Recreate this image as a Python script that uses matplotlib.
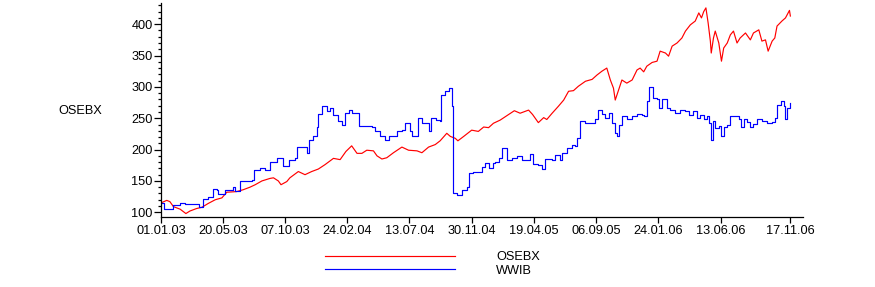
import matplotlib
matplotlib.use("Agg")
import matplotlib.pyplot as plt
import matplotlib.dates as mdates
from matplotlib.ticker import MultipleLocator
import pandas as pd

plt.rcParams['font.family'] = ['Liberation Sans', 'DejaVu Sans']
plt.rcParams['font.size'] = 9.2

# OSEBX index (red)
osebx_dates = [
    '2003-01-01', '2003-01-14', '2003-01-21', '2003-01-29', '2003-02-13', '2003-02-26',
    '2003-03-07', '2003-03-22', '2003-04-03', '2003-04-17', '2003-05-03', '2003-05-18',
    '2003-05-29', '2003-06-20', '2003-07-05', '2003-07-20', '2003-08-01', '2003-08-16',
    '2003-09-03', '2003-09-11', '2003-09-22', '2003-09-28', '2003-10-11', '2003-10-18',
    '2003-11-06', '2003-11-21', '2003-12-06', '2003-12-21', '2004-01-01', '2004-01-05',
    '2004-01-24', '2004-02-08', '2004-02-21', '2004-03-05', '2004-03-17', '2004-03-28',
    '2004-04-08', '2004-04-23', '2004-05-01', '2004-05-12', '2004-05-23', '2004-06-07',
    '2004-06-26', '2004-07-11', '2004-07-30', '2004-08-10', '2004-08-25', '2004-09-09',
    '2004-09-20', '2004-10-05', '2004-10-13', '2004-10-24', '2004-10-30', '2004-11-12',
    '2004-11-30', '2004-12-15', '2004-12-27', '2005-01-07', '2005-01-18', '2005-02-02',
    '2005-02-17', '2005-03-06', '2005-03-19', '2005-04-07', '2005-04-16', '2005-04-22',
    '2005-04-29', '2005-05-11', '2005-05-18', '2005-05-30', '2005-06-13', '2005-06-25',
    '2005-07-06', '2005-07-17', '2005-07-28', '2005-08-13', '2005-08-28', '2005-09-08',
    '2005-09-19', '2005-09-30', '2005-10-08', '2005-10-15', '2005-10-19', '2005-10-26',
    '2005-11-03', '2005-11-14', '2005-11-26', '2005-12-07', '2005-12-14', '2005-12-22',
    '2005-12-29', '2006-01-10', '2006-01-21', '2006-01-28', '2006-02-09', '2006-02-16',
    '2006-02-24', '2006-03-07', '2006-03-18', '2006-03-26', '2006-04-06', '2006-04-17',
    '2006-04-25', '2006-05-01', '2006-05-06', '2006-05-11', '2006-05-16', '2006-05-21',
    '2006-05-23', '2006-05-28', '2006-06-01', '2006-06-09', '2006-06-15', '2006-06-20',
    '2006-06-28', '2006-07-05', '2006-07-12', '2006-07-20', '2006-07-27', '2006-08-08',
    '2006-08-19', '2006-08-26', '2006-09-07', '2006-09-14', '2006-09-22', '2006-09-28',
    '2006-10-07', '2006-10-13', '2006-10-18', '2006-10-29', '2006-11-06', '2006-11-12',
    '2006-11-15', '2006-11-17',
]
osebx_values = [
    115, 119, 117, 109, 105, 98,
    102, 106, 108, 114, 120, 123,
    132, 133, 136, 140, 144, 150,
    154, 155, 150, 144, 149, 155,
    165, 160, 165, 169, 174, 176,
    186, 184, 197, 206, 194, 194,
    199, 198, 190, 185, 187, 195,
    204, 199, 198, 195, 204, 208,
    214, 226, 221, 218, 214, 221,
    231, 229, 236, 235, 242, 247,
    254, 262, 258, 263, 256, 250,
    243, 251, 248, 258, 269, 279,
    293, 294, 301, 309, 312, 319,
    325, 330, 311, 298, 279, 294,
    311, 306, 311, 327, 330, 324,
    333, 339, 341, 357, 354, 349,
    365, 370, 378, 389, 399, 405,
    418, 410, 420, 426, 402, 373,
    354, 378, 389, 370, 341, 362,
    370, 383, 389, 370, 378, 386,
    375, 386, 391, 373, 375, 357,
    373, 378, 397, 405, 410, 418,
    422, 413,
]

# WWIB (blue)
wwib_dates = [
    '2003-01-01', '2003-01-08', '2003-01-26', '2003-01-27', '2003-02-13', '2003-02-24',
    '2003-03-19', '2003-03-28', '2003-04-06', '2003-04-17', '2003-04-27', '2003-05-06',
    '2003-05-10', '2003-05-25', '2003-06-11', '2003-06-17', '2003-06-28', '2003-07-24',
    '2003-07-30', '2003-08-12', '2003-08-23', '2003-09-03', '2003-09-18', '2003-10-03',
    '2003-10-15', '2003-10-30', '2003-11-02', '2003-11-17', '2003-11-25', '2003-11-29',
    '2003-12-10', '2003-12-17', '2003-12-21', '2003-12-30', '2004-01-09', '2004-01-16',
    '2004-01-24', '2004-02-04', '2004-02-12', '2004-02-19', '2004-02-27', '2004-03-06',
    '2004-03-17', '2004-03-22', '2004-04-19', '2004-04-27', '2004-05-08', '2004-05-19',
    '2004-05-28', '2004-06-07', '2004-06-15', '2004-06-26', '2004-07-03', '2004-07-15',
    '2004-07-18', '2004-07-30', '2004-08-01', '2004-08-10', '2004-08-17', '2004-08-25',
    '2004-08-31', '2004-09-11', '2004-09-20', '2004-09-22', '2004-10-01', '2004-10-09',
    '2004-10-15', '2004-10-16', '2004-10-19', '2004-10-28', '2004-11-02', '2004-11-08',
    '2004-11-19', '2004-11-24', '2004-12-04', '2004-12-15', '2004-12-23', '2004-12-30',
    '2005-01-07', '2005-01-16', '2005-01-22', '2005-01-31', '2005-02-07', '2005-02-17',
    '2005-02-28', '2005-03-12', '2005-03-23', '2005-04-11', '2005-04-18', '2005-04-29',
    '2005-05-07', '2005-05-14', '2005-05-30', '2005-06-06', '2005-06-17', '2005-06-21',
    '2005-07-02', '2005-07-14', '2005-07-21', '2005-07-25', '2005-08-01', '2005-08-13',
    '2005-08-28', '2005-09-04', '2005-09-11', '2005-09-19', '2005-09-27', '2005-10-04',
    '2005-10-12', '2005-10-19', '2005-10-23', '2005-10-28', '2005-11-03', '2005-11-14',
    '2005-11-26', '2005-12-07', '2005-12-18', '2005-12-22', '2005-12-29', '2006-01-04',
    '2006-01-08', '2006-01-13', '2006-01-21', '2006-01-25', '2006-02-01', '2006-02-07',
    '2006-02-12', '2006-02-20', '2006-03-03', '2006-03-14', '2006-03-26', '2006-04-02',
    '2006-04-13', '2006-04-21', '2006-04-28', '2006-05-06', '2006-05-13', '2006-05-19',
    '2006-05-23', '2006-05-26', '2006-06-01', '2006-06-09', '2006-06-15', '2006-06-20',
    '2006-06-28', '2006-07-05', '2006-07-16', '2006-07-24', '2006-07-30', '2006-08-04',
    '2006-08-12', '2006-08-19', '2006-08-26', '2006-09-03', '2006-09-14', '2006-09-26',
    '2006-10-07', '2006-10-13', '2006-10-18', '2006-10-26', '2006-11-02', '2006-11-06',
    '2006-11-10', '2006-11-17',
]
wwib_values = [
    115, 106, 106, 111, 115, 114,
    113, 108, 122, 124, 137, 136,
    129, 136, 141, 134, 150, 152,
    168, 170, 167, 181, 186, 174,
    183, 186, 204, 204, 194, 215,
    221, 236, 256, 269, 261, 266,
    255, 245, 239, 258, 263, 258,
    258, 237, 236, 229, 221, 215,
    221, 221, 229, 231, 242, 229,
    221, 221, 250, 242, 242, 230,
    250, 247, 245, 287, 293, 298,
    299, 269, 130, 128, 128, 136,
    141, 162, 165, 164, 173, 178,
    170, 179, 181, 186, 202, 184,
    186, 189, 184, 193, 177, 175,
    169, 185, 184, 191, 184, 194,
    202, 208, 205, 218, 245, 243,
    243, 249, 263, 257, 250, 259,
    242, 226, 222, 240, 253, 249,
    253, 257, 255, 253, 277, 300,
    300, 282, 280, 266, 281, 281,
    266, 263, 259, 263, 261, 255,
    261, 250, 255, 249, 253, 242,
    216, 245, 234, 237, 222, 236,
    239, 254, 254, 249, 236, 248,
    244, 236, 241, 249, 245, 242,
    244, 250, 271, 277, 269, 249,
    266, 274,
]

tick_dates = ['2003-01-01', '2003-05-20', '2003-10-07', '2004-02-24', '2004-07-13',
              '2004-11-30', '2005-04-19', '2005-09-06', '2006-01-24', '2006-06-13',
              '2006-11-17']

fig = plt.figure(figsize=(8.75, 2.87), dpi=100)
ax = fig.add_axes([0.184, 0.245, 0.734, 0.745])

ax.plot(pd.to_datetime(osebx_dates), osebx_values, color='#ff0000', lw=0.85,
        label='OSEBX')
ax.plot(pd.to_datetime(wwib_dates), wwib_values, color='#0000ff', lw=0.85,
        drawstyle='steps-post', label='WWIB')

ax.set_xlim(pd.Timestamp('2003-01-01'), pd.Timestamp('2006-12-16'))
ax.set_ylim(93, 434)

ax.set_xticks(pd.to_datetime(tick_dates))
ax.xaxis.set_major_formatter(mdates.DateFormatter('%d.%m.%y'))
ax.yaxis.set_major_locator(MultipleLocator(50))
ax.yaxis.set_minor_locator(MultipleLocator(10))
ax.set_yticks(range(100, 401, 50))

for s in ['top', 'right']:
    ax.spines[s].set_visible(False)
ax.spines['left'].set_linewidth(0.9)
ax.spines['bottom'].set_linewidth(0.9)
ax.tick_params(axis='y', which='major', length=5, width=0.9, pad=1)
ax.tick_params(axis='y', which='minor', length=2.5, width=0.9)
ax.tick_params(axis='x', which='major', length=4, width=0.9, pad=2)

fig.text(80 / 875, 1 - 111 / 287, 'OSEBX', ha='center', va='center')

fig.legend(loc='upper left', bbox_to_anchor=(325 / 875, 1 - 251.5 / 287),
           frameon=False, handlelength=10.2, handletextpad=3.2,
           labelspacing=0.1, borderpad=0, borderaxespad=0)

fig.savefig('out.png', dpi=100)
